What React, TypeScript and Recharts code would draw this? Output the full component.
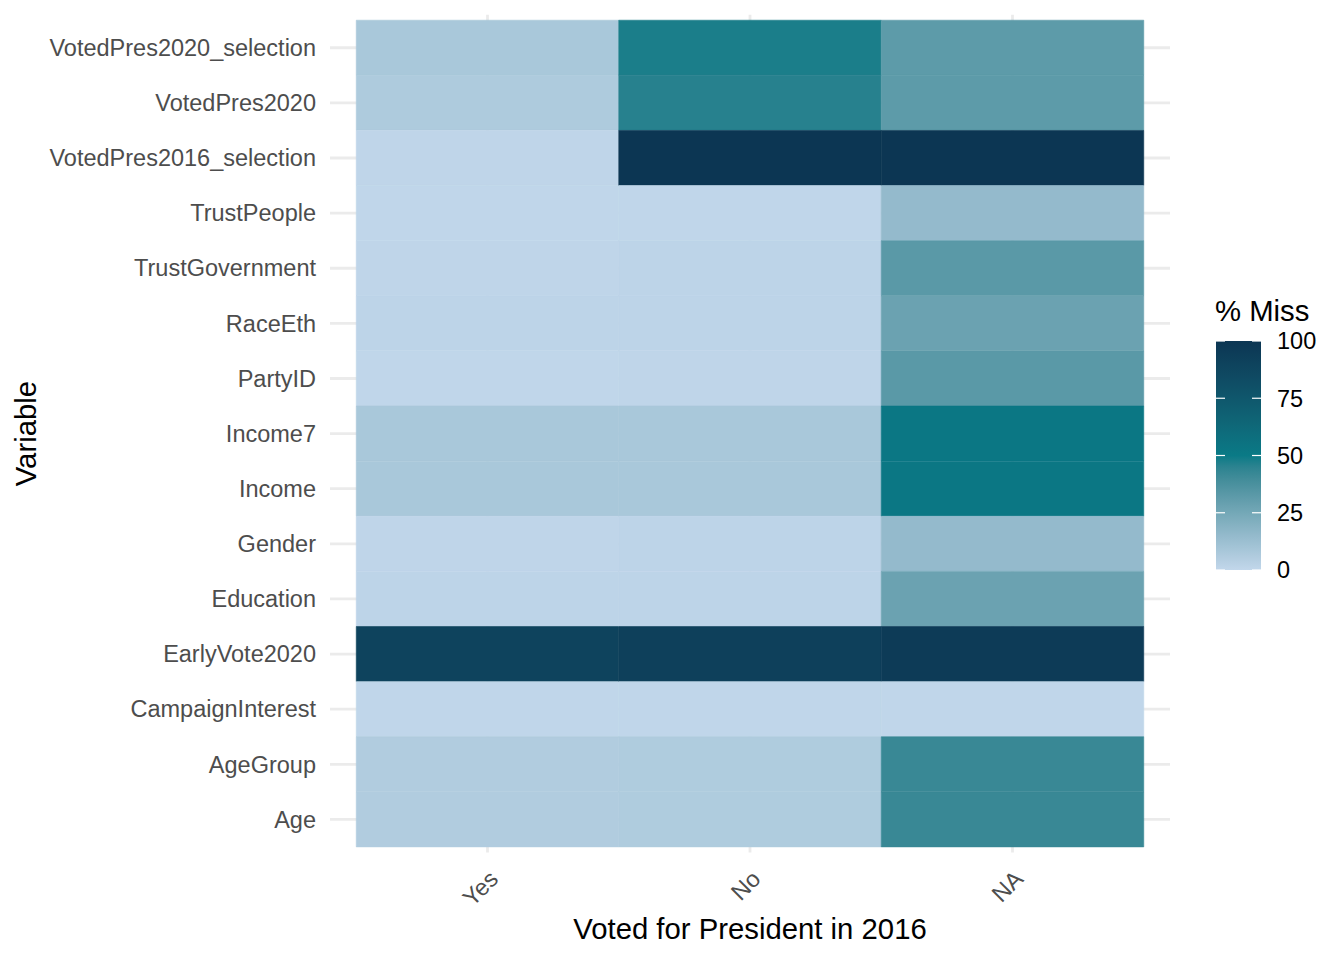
import React from "react";
import { BarChart, Bar, XAxis, YAxis, CartesianGrid, Cell } from "recharts";

// variables, top to bottom
const variables = [
    "VotedPres2020_selection",
    "VotedPres2020",
    "VotedPres2016_selection",
    "TrustPeople",
    "TrustGovernment",
    "RaceEth",
    "PartyID",
    "Income7",
    "Income",
    "Gender",
    "Education",
    "EarlyVote2020",
    "CampaignInterest",
    "AgeGroup",
    "Age",
];

const groups = ["Yes", "No", "NA"];

// % missing per group
const missYes = [8, 6.5, 1, 0.5, 1, 1.5, 0.5, 8, 8, 1, 1.5, 90, 0.5, 5.5, 5.5];
const missNo = [48, 46, 100, 0.5, 1.5, 1.5, 1, 8, 8, 1.5, 1.5, 92, 0.5, 6, 6];
const missNA = [32, 32, 100, 15, 33, 28, 33, 52, 52, 15, 28, 96, 0.5, 42, 42];

const legendBreaks = [0, 25, 50, 75, 100];
const xTicks = [0.5, 1.5, 2.5];
const xDomain = [-0.1, 3.1];

const FONT = '"Liberation Sans", Arial, Helvetica, sans-serif';
const LOW = "#c2d7eb";
const MID = "#0a7a86";
const HIGH = "#0c3653";

// --- colour scale (Lab interpolation like ggplot's gradient2) ---
const toLin = (c: number) => {
    c /= 255;
    return c <= 0.04045 ? c / 12.92 : Math.pow((c + 0.055) / 1.055, 2.4);
};
const fromLin = (c: number) => {
    const v = c <= 0.0031308 ? 12.92 * c : 1.055 * Math.pow(Math.max(c, 0), 1 / 2.4) - 0.055;
    return Math.round(Math.max(0, Math.min(1, v)) * 255);
};
const fLab = (t: number) => (t > 0.008856 ? Math.cbrt(t) : 7.787 * t + 16 / 116);
const fInv = (f: number) => (f * f * f > 0.008856 ? f * f * f : (f - 16 / 116) / 7.787);

function hexToLab(hex: string) {
    const r = toLin(parseInt(hex.slice(1, 3), 16));
    const g = toLin(parseInt(hex.slice(3, 5), 16));
    const b = toLin(parseInt(hex.slice(5, 7), 16));
    const X = (0.4124 * r + 0.3576 * g + 0.1805 * b) / 0.95047;
    const Y = 0.2126 * r + 0.7152 * g + 0.0722 * b;
    const Z = (0.0193 * r + 0.1192 * g + 0.9505 * b) / 1.08883;
    const fx = fLab(X), fy = fLab(Y), fz = fLab(Z);
    return [116 * fy - 16, 500 * (fx - fy), 200 * (fy - fz)];
}

function labToHex([L, a, bb]: number[]) {
    const fy = (L + 16) / 116;
    const fx = fy + a / 500;
    const fz = fy - bb / 200;
    const X = fInv(fx) * 0.95047, Y = fInv(fy), Z = fInv(fz) * 1.08883;
    const r = 3.2406 * X - 1.5372 * Y - 0.4986 * Z;
    const g = -0.9689 * X + 1.8758 * Y + 0.0415 * Z;
    const b = 0.0557 * X - 0.204 * Y + 1.057 * Z;
    return "#" + [r, g, b].map((c) => fromLin(c).toString(16).padStart(2, "0")).join("");
}

const lowLab = hexToLab(LOW), midLab = hexToLab(MID), highLab = hexToLab(HIGH);

function fillFor(v: number) {
    const [from, to, t] = v <= 50 ? [lowLab, midLab, v / 50] : [midLab, highLab, (v - 50) / 50];
    return labToHex(from.map((c, i) => c + (to[i] - c) * t));
}

// each tile spans one unit on the x scale; stacked Yes | No | NA
const rows = variables.map((variable, i) => ({ variable, Yes: 1, No: 1, NA: 1, i }));
const missing: Record<string, number[]> = { Yes: missYes, No: missNo, NA: missNA };

// grid only at tick positions (no panel border)
function vGrid({ xAxis, offset }: any) {
    if (xAxis && typeof xAxis.scale === "function") return xTicks.map((t) => xAxis.scale(t));
    return xTicks.map((t) => offset.left + ((t - xDomain[0]) / (xDomain[1] - xDomain[0])) * offset.width);
}

function hGrid({ yAxis, offset }: any) {
    if (yAxis && typeof yAxis.scale === "function" && yAxis.scale.bandwidth) {
        const bw = yAxis.scale.bandwidth();
        return variables.map((v) => yAxis.scale(v) + bw / 2);
    }
    const inner = offset.height - 11;
    const step = inner / variables.length;
    return variables.map((_, i) => offset.top + 5.5 + step * (i + 0.5));
}

function YTick({ x, y, payload }: any) {
    return (
        <text x={x} y={y} dy="0.35em" textAnchor="end" fontSize={23.5} fill="#4d4d4d" fontFamily={FONT}>
            {payload.value}
        </text>
    );
}

function XTick({ x, y, payload }: any) {
    const label = groups[Math.floor(payload.value)];
    const ax = x + 12;
    const ay = y + 20;
    return (
        <text
            x={ax}
            y={ay}
            textAnchor="end"
            fontSize={23.5}
            fill="#4d4d4d"
            fontFamily={FONT}
            transform={`rotate(-45, ${ax}, ${ay})`}
        >
            {label}
        </text>
    );
}

function Legend() {
    const top = 341;
    const bottom = 570;
    const left = 1216;
    const w = 45;
    const yFor = (v: number) => bottom - ((bottom - top) * v) / 100;
    const stops = Array.from({ length: 21 }, (_, k) => k * 5);
    return (
        <g fontFamily={FONT}>
            <defs>
                <linearGradient id="missGrad" x1="0" y1="1" x2="0" y2="0">
                    {stops.map((s) => (
                        <stop key={s} offset={`${s}%`} stopColor={fillFor(s)} />
                    ))}
                </linearGradient>
            </defs>
            <text x={1215} y={321} fontSize={29.3} fill="#000">% Miss</text>
            <rect x={left} y={top} width={w} height={bottom - top} fill="url(#missGrad)" />
            {legendBreaks.map((b) => (
                <g key={b}>
                    <line x1={left} x2={left + 9} y1={yFor(b)} y2={yFor(b)} stroke="#fff" strokeWidth={1.2} />
                    <line x1={left + w - 9} x2={left + w} y1={yFor(b)} y2={yFor(b)} stroke="#fff" strokeWidth={1.2} />
                    <text x={1277} y={yFor(b)} dy="0.36em" fontSize={23.5} fill="#000">{b}</text>
                </g>
            ))}
        </g>
    );
}

export default function App() {
    return (
        <div style={{ position: "absolute", left: 0, top: 0, width: 1344, height: 960, background: "#fff" }}>
            <BarChart
                width={1344}
                height={960}
                data={rows}
                layout="vertical"
                margin={{ top: 14.7, right: 174, bottom: 47.5, left: 0 }}
                barCategoryGap={0}
                barGap={0}
            >
                <CartesianGrid
                    stroke="#ebebeb"
                    strokeWidth={2.8}
                    verticalCoordinatesGenerator={vGrid}
                    horizontalCoordinatesGenerator={hGrid}
                />
                <XAxis
                    type="number"
                    domain={xDomain}
                    ticks={xTicks}
                    allowDataOverflow
                    axisLine={false}
                    tickLine={false}
                    height={60}
                    tick={<XTick />}
                />
                <YAxis
                    type="category"
                    dataKey="variable"
                    width={330}
                    axisLine={false}
                    tickLine={false}
                    tickSize={6}
                    tickMargin={8}
                    interval={0}
                    padding={{ top: 5.5, bottom: 5.5 }}
                    tick={<YTick />}
                />
                {groups.map((g) => (
                    <Bar key={g} dataKey={g} stackId="tiles" isAnimationActive={false}>
                        {rows.map((r) => {
                            const c = fillFor(missing[g][r.i]);
                            return <Cell key={r.variable} fill={c} stroke={c} strokeWidth={0.6} />;
                        })}
                    </Bar>
                ))}
            </BarChart>
            <svg
                width={1344}
                height={960}
                style={{ position: "absolute", left: 0, top: 0, pointerEvents: "none" }}
            >
                <text x={750} y={939} textAnchor="middle" fontSize={29.3} fontFamily={FONT} fill="#000">
                    Voted for President in 2016
                </text>
                <text
                    x={36}
                    y={433.6}
                    textAnchor="middle"
                    fontSize={29.3}
                    fontFamily={FONT}
                    fill="#000"
                    transform="rotate(-90, 36, 433.6)"
                >
                    Variable
                </text>
                <Legend />
            </svg>
        </div>
    );
}
